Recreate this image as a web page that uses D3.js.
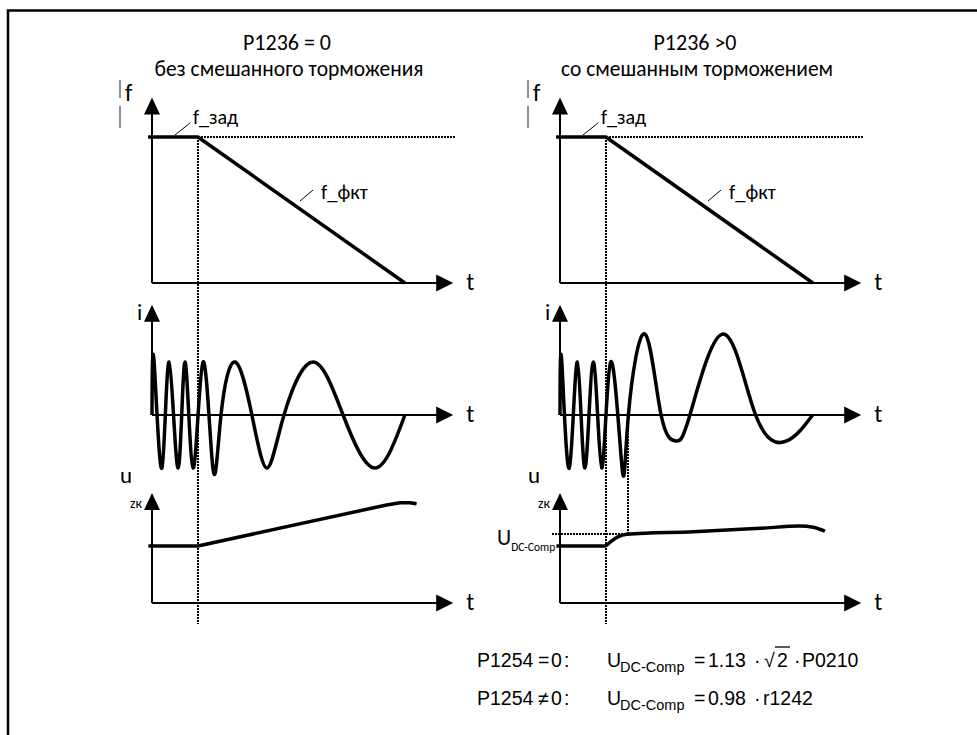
<!DOCTYPE html>
<html>
<head>
<meta charset="utf-8">
<script src="https://cdn.jsdelivr.net/npm/d3@7"></script>
<style>
  body { margin: 0; background: #fff; }
  svg { display: block; }
  .lbl { font-family: Carlito, Calibri, 'Open Sans', sans-serif; fill: #000; }
  .frm { font-family: 'Liberation Sans', Arial, sans-serif; fill: #000; }
</style>
</head>
<body>
<svg width="977" height="735"></svg>
<script>
// panel headings
const titles = ['P1236 = 0', 'P1236 >0'];
const subtitles = ['без смешанного торможения', 'со смешанным торможением'];

// time axis: 0..100 = span of the t axis, braking starts at tBrake
const tBrake = 15.3;
const fTime = [-1.3, 15.3, 84.3];
const fValue = [1, 1, 0];
const fSetEnd = 101;

// motor current, normalised to the amplitude before braking
const iLeftTime = [0, 0.7, 3.3, 5.7, 8.7, 11, 13.7, 17, 20.3, 23, 27.7, 33.3, 38.3, 44, 53.7, 63.7, 74.3, 84.3];
const iLeftValue = [0, 1, -1, 1, -1, 1, -1, 1, -1, 0, 1, 0, -1, 0, 1, 0, -1, 0];
const iRightTime = [0, 0.6, 3.1, 5.8, 8.3, 11.1, 13.9, 16.9, 20.7, 22.8, 28.3, 33.7, 38.7, 43.3, 54.4, 65.2, 75.6, 84.2];
const iRightValue = [0, 1, -1, 1, -1, 1, -1, 1, -1, 0, 1.53, 0, -0.49, 0, 1.53, 0, -0.49, 0];

// DC link voltage, normalised to the value before braking
const uLeftTime = [-1.2, 15.3, 78.2, 82.7, 86, 88.2];
const uLeftValue = [1, 1, 1.72, 1.76, 1.76, 1.74];
const uRightTime = [-1.2, 15, 17, 19.3, 22.3, 44.4, 66.7, 80, 84.4, 88.3];
const uRightValue = [1, 1, 1.08, 1.16, 1.205, 1.25, 1.31, 1.35, 1.33, 1.26];
const uComp = 1.205;   // U_DC-Comp threshold
const tComp = 22.8;    // compound braking kicks in

let svg = d3.select('svg');

// outer frame (right and bottom edge fall outside the picture)
svg.append('rect')
  .attr('x', 8).attr('y', 10.5)
  .attr('width', 1000).attr('height', 800)
  .attr('fill', 'none').attr('stroke', '#000').attr('stroke-width', 2.5);

// scales shared by both columns
let x = d3.scaleLinear().domain([0, 100]).range([0, 300]);
let yF = d3.scaleLinear().domain([0, 1]).range([283, 137]);
let yI = d3.scaleLinear().domain([-1, 1]).range([468, 362]);
let yU = d3.scaleLinear().domain([0, 1]).range([603, 546]);

const axisEnd = 100.4;
const guideBottom = 624;

let panels = [
  { x0: 152, iT: iLeftTime, iV: iLeftValue, uT: uLeftTime, uV: uLeftValue, uCurve: d3.curveLinear },
  { x0: 560, iT: iRightTime, iV: iRightValue, uT: uRightTime, uV: uRightValue, uCurve: d3.curveMonotoneX }
];

function arrowUp(g, px, py) {
  g.append('path').attr('d', `M${px},${py}L${px - 8},${py + 17}L${px + 8},${py + 17}Z`).attr('fill', '#000');
}
function arrowRight(g, px, py) {
  g.append('path').attr('d', `M${px},${py}L${px - 17},${py - 8.5}L${px - 17},${py + 8.5}Z`).attr('fill', '#000');
}

// pair of axes with arrows, origin at (x(0), y(0))
function axes(g, y, top) {
  g.append('line')
    .attr('x1', x(0)).attr('x2', x(0))
    .attr('y1', y(0)).attr('y2', y(top) + 12)
    .attr('stroke', '#000').attr('stroke-width', 2);
  arrowUp(g, x(0), y(top));
  g.append('line')
    .attr('x1', x(0)).attr('x2', x(axisEnd) - 12)
    .attr('y1', y(0)).attr('y2', y(0))
    .attr('stroke', '#000').attr('stroke-width', 2);
  arrowRight(g, x(axisEnd), y(0));
  g.append('text').attr('class', 'lbl')
    .attr('x', x(axisEnd) + 13).attr('y', y(0) + 7)
    .attr('font-size', 24).text('t');
}

// dotted guide, snapped to whole pixels so the dots stay black
function dotted(g, x1, y1, x2, y2) {
  g.append('line')
    .attr('x1', Math.round(x1)).attr('y1', Math.round(y1))
    .attr('x2', Math.round(x2)).attr('y2', Math.round(y2))
    .attr('stroke', '#000').attr('stroke-width', 2)
    .attr('stroke-dasharray', '2,1')
    .attr('shape-rendering', 'crispEdges');
}

function trace(g, t, v, y, curve) {
  let line = d3.line()
    .x(d => x(d[0]))
    .y(d => y(d[1]))
    .curve(curve);
  g.append('path')
    .datum(d3.zip(t, v))
    .attr('d', line)
    .attr('fill', 'none')
    .attr('stroke', '#000')
    .attr('stroke-width', 3.5)
    .attr('stroke-linejoin', 'round');
}

panels.forEach((p, k) => {
  let g = svg.append('g').attr('transform', `translate(${p.x0},0)`);

  g.append('text').attr('class', 'lbl')
    .attr('x', 135).attr('y', 50)
    .attr('text-anchor', 'middle').attr('font-size', 22)
    .text(titles[k]);
  g.append('text').attr('class', 'lbl')
    .attr('x', 137).attr('y', 76)
    .attr('text-anchor', 'middle').attr('font-size', 21.5)
    .text(subtitles[k]);

  // guide lines first so the traces sit on top
  dotted(g, x(tBrake), yF(1), x(tBrake), guideBottom);
  dotted(g, x(tBrake), yF(1), x(fSetEnd), yF(1));

  // frequency
  axes(g, yF, 1.27);
  g.append('text').attr('class', 'lbl').attr('x', -27).attr('y', 101).attr('font-size', 24).text('f');
  g.append('line').attr('x1', -32).attr('x2', -32).attr('y1', 80).attr('y2', 98).attr('stroke', '#555').attr('stroke-width', 1.3);
  g.append('line').attr('x1', -32).attr('x2', -32).attr('y1', 106).attr('y2', 128).attr('stroke', '#555').attr('stroke-width', 1.3);
  trace(g, fTime, fValue, yF, d3.curveLinear);

  g.append('line').attr('x1', 23).attr('y1', 135).attr('x2', 38).attr('y2', 123).attr('stroke', '#000').attr('stroke-width', 1);
  g.append('text').attr('class', 'lbl').attr('x', 41).attr('y', 124).attr('font-size', 20).text('f_зад');
  g.append('line').attr('x1', 148).attr('y1', 201).attr('x2', 161).attr('y2', 190).attr('stroke', '#000').attr('stroke-width', 1);
  g.append('text').attr('class', 'lbl').attr('x', 169).attr('y', 199).attr('font-size', 20.5).text('f_фкт');

  // current
  axes(g, yI, 2.08);
  g.append('text').attr('class', 'lbl').attr('x', -15).attr('y', 320).attr('font-size', 23).text('i');
  trace(g, p.iT, p.iV, yI, d3.curveNatural);

  // DC link voltage
  if (k === 1) {
    dotted(g, x(-2.8), yU(uComp), x(tComp), yU(uComp));
    dotted(g, x(tComp), yI(0), x(tComp), yU(uComp));
    let ul = g.append('text').attr('class', 'lbl').attr('x', -63).attr('y', 545).attr('font-size', 22);
    ul.append('tspan').text('U');
    ul.append('tspan').attr('font-size', 11.5).attr('dy', 6).text('DC-Comp');
  }
  axes(g, yU, 1.93);
  g.append('text').attr('class', 'lbl').attr('x', -32).attr('y', 483).attr('font-size', 23).text('u');
  g.append('text').attr('class', 'lbl').attr('x', -22).attr('y', 508).attr('font-size', 14).text('zк');
  trace(g, p.uT, p.uV, yU, p.uCurve);
});

// formulas under the right column
function piece(px, py, str, size) {
  return svg.append('text').attr('class', 'frm')
    .attr('x', px).attr('y', py).attr('font-size', size || 19.5).text(str);
}
[[667, '=', '1.13'], [705, '\u2260', '0.98']].forEach(([py, rel, coef]) => {
  piece(477, py, 'P1254');
  piece(538, py, rel);
  piece(551, py, '0');
  piece(564, py, ':');
  piece(607, py, 'U');
  piece(620, py + 5, 'DC-Comp', 14.5);
  piece(694, py, '=');
  piece(708, py, coef);
  piece(754, py, '\u00b7');
});
piece(764, 667, '\u221a');
piece(777, 667, '2');
svg.append('line').attr('x1', 775).attr('x2', 790).attr('y1', 647).attr('y2', 647).attr('stroke', '#000').attr('stroke-width', 1.3);
piece(794, 667, '\u00b7');
piece(802, 667, 'P0210');
piece(763, 705, 'r1242');
</script>
</body>
</html>
